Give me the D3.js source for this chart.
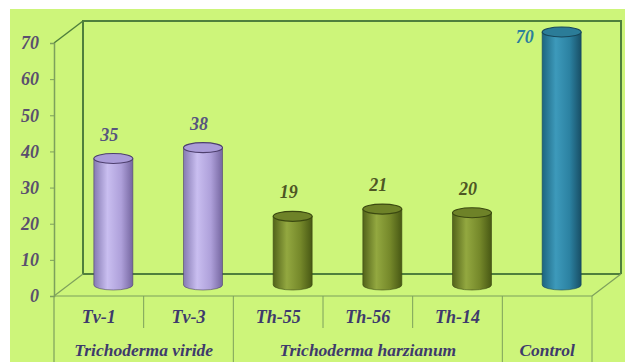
<!DOCTYPE html>
<html><head><meta charset="utf-8">
<script src="https://cdn.jsdelivr.net/npm/d3@7"></script>
<style>html,body{margin:0;padding:0;background:#fff;}svg{display:block;}</style>
</head><body>
<script>
const categories = ["Tv-1","Tv-3","Th-55","Th-56","Th-14","Control"];
const values = [35,38,19,21,20,70];
const seriesKind = ["viride","viride","harz","harz","harz","control"];
const groupNames = ["Trichoderma viride","Trichoderma harzianum","Control"];
const groupStart = [0,2,5];
const groupEnd = [1,4,5];
const yTicks = [0,10,20,30,40,50,60,70];

const W=625,H=362;
const svg=d3.select("body").append("svg").attr("width",W).attr("height",H);
const defs=svg.append("defs");
const pal={
  viride:{stops:["#857ab2","#c9bef0","#aea0da","#7566a0"],top:"#aa9cd8",stroke:"#4d3f6e",label:"#57557e"},
  harz:{stops:["#52631a","#93a840","#75882a","#485814"],top:"#6e8228",stroke:"#3a4810",label:"#4e5624"},
  control:{stops:["#1d6580","#3d9abb","#2c82a2","#184f66"],top:"#2b7c98",stroke:"#17475a",label:"#2c7f9c"}
};
Object.entries(pal).forEach(([k,p])=>{
  const g=defs.append("linearGradient").attr("id","g-"+k).attr("x1","0").attr("x2","1").attr("y1","0").attr("y2","0");
  [0,0.35,0.7,1].forEach((o,i)=>g.append("stop").attr("offset",o).attr("stop-color",p.stops[i]));
});

svg.append("rect").attr("x",10).attr("y",9).attr("width",W-10).attr("height",H-9).attr("fill","#cdf57a");

const x=d3.scaleBand().domain(categories).range([54,592]).padding(0);
const y=d3.scaleLinear().domain([0,70]).range([296,43]);
const dx=29, dy=-22;
const x0=54,x1=592,yb=y(0),yt=y(70);

const lineCol="#4f7f3c", thin="#7da05c";
svg.append("path").attr("d",`M${x0+dx},${yb+dy}V${yt+dy}H${x1+dx}V${yb+dy}`).attr("fill","none").attr("stroke",lineCol).attr("stroke-width",2);
svg.append("line").attr("x1",x0+dx).attr("x2",x1+dx).attr("y1",yb+dy).attr("y2",yb+dy).attr("stroke",lineCol).attr("stroke-width",2);
svg.append("line").attr("x1",x0).attr("y1",yt).attr("x2",x0+dx).attr("y2",yt+dy).attr("stroke",lineCol).attr("stroke-width",1.5);
svg.append("line").attr("x1",x0).attr("y1",yb).attr("x2",x0+dx).attr("y2",yb+dy).attr("stroke",thin).attr("stroke-width",1.2);
svg.append("line").attr("x1",x1).attr("y1",yb).attr("x2",x1+dx).attr("y2",yb+dy).attr("stroke",thin).attr("stroke-width",1.2);
svg.append("line").attr("x1",x0).attr("x2",x1).attr("y1",yb).attr("y2",yb).attr("stroke",thin).attr("stroke-width",1.2);

const font="'Liberation Serif','Times New Roman',serif";
const ax=svg.append("g").attr("transform",`translate(${x0},0)`)
  .call(d3.axisLeft(y).tickValues(yTicks).tickSize(4).tickPadding(11).tickFormat(d3.format("d")));
ax.select(".domain").attr("stroke",thin).attr("stroke-width",1.5);
ax.selectAll(".tick line").attr("stroke",thin);
ax.selectAll("text").attr("fill","#5a4f6e").style("font-family",font)
  .style("font-size","18px").style("font-weight","bold").style("font-style","italic");
svg.append("line").attr("x1",x0).attr("x2",x0).attr("y1",yb).attr("y2",H).attr("stroke",thin).attr("stroke-width",1.2);

const groupBounds=new Set(groupEnd.map(e=>e+1));
for(let i=1;i<=categories.length;i++){
  const xx = i<categories.length ? x(categories[i]) : x1;
  const full=groupBounds.has(i);
  svg.append("line").attr("x1",xx).attr("x2",xx).attr("y1",yb).attr("y2",full?H:328).attr("stroke",thin).attr("stroke-width",1);
}

// category labels (single-category groups show only the group label)
const singleGroup=new Set(groupStart.filter((s,i)=>s===groupEnd[i]));
svg.append("g").selectAll("text").data(categories).join("text")
  .attr("x",d=>x(d)+x.bandwidth()/2).attr("y",323).attr("text-anchor","middle")
  .text((d,i)=>singleGroup.has(i)?"":d)
  .attr("fill","#3e3a6c").style("font-family",font).style("font-size","18px").style("font-weight","bold").style("font-style","italic");
svg.append("g").selectAll("text").data(groupNames).join("text")
  .attr("x",(d,i)=>(x(categories[groupStart[i]])+x(categories[groupEnd[i]])+x.bandwidth())/2)
  .attr("y",356).attr("text-anchor","middle").text(d=>d)
  .attr("fill","#3e3a6c").style("font-family",font).style("font-size","17.5px").style("font-weight","bold").style("font-style","italic");

const bw=39, ry=5;
const bars=svg.append("g");
categories.forEach((c,i)=>{
  const p=pal[seriesKind[i]];
  const cx=x(c)+x.bandwidth()/2+dx/2;
  const yTop=y(values[i])+dy/2, yBot=y(0)+dy/2;
  const g=bars.append("g");
  g.append("path").attr("d",`M${cx-bw/2},${yTop}V${yBot}A${bw/2},${ry} 0 0 0 ${cx+bw/2},${yBot}V${yTop}Z`)
    .attr("fill",`url(#g-${seriesKind[i]})`).attr("stroke",p.stroke).attr("stroke-width",0.6);
  g.append("ellipse").attr("cx",cx).attr("cy",yTop).attr("rx",bw/2).attr("ry",ry)
    .attr("fill",p.top).attr("stroke",p.stroke).attr("stroke-width",1.1);
  const isMax = values[i]===d3.max(values);
  g.append("text").attr("x",isMax?cx-37:cx-4).attr("y",isMax?yTop+11:yTop-18).attr("text-anchor","middle")
    .text(values[i]).attr("fill",p.label).style("font-family",font).style("font-size","18px").style("font-weight","bold").style("font-style","italic");
});
</script>
</body></html>
